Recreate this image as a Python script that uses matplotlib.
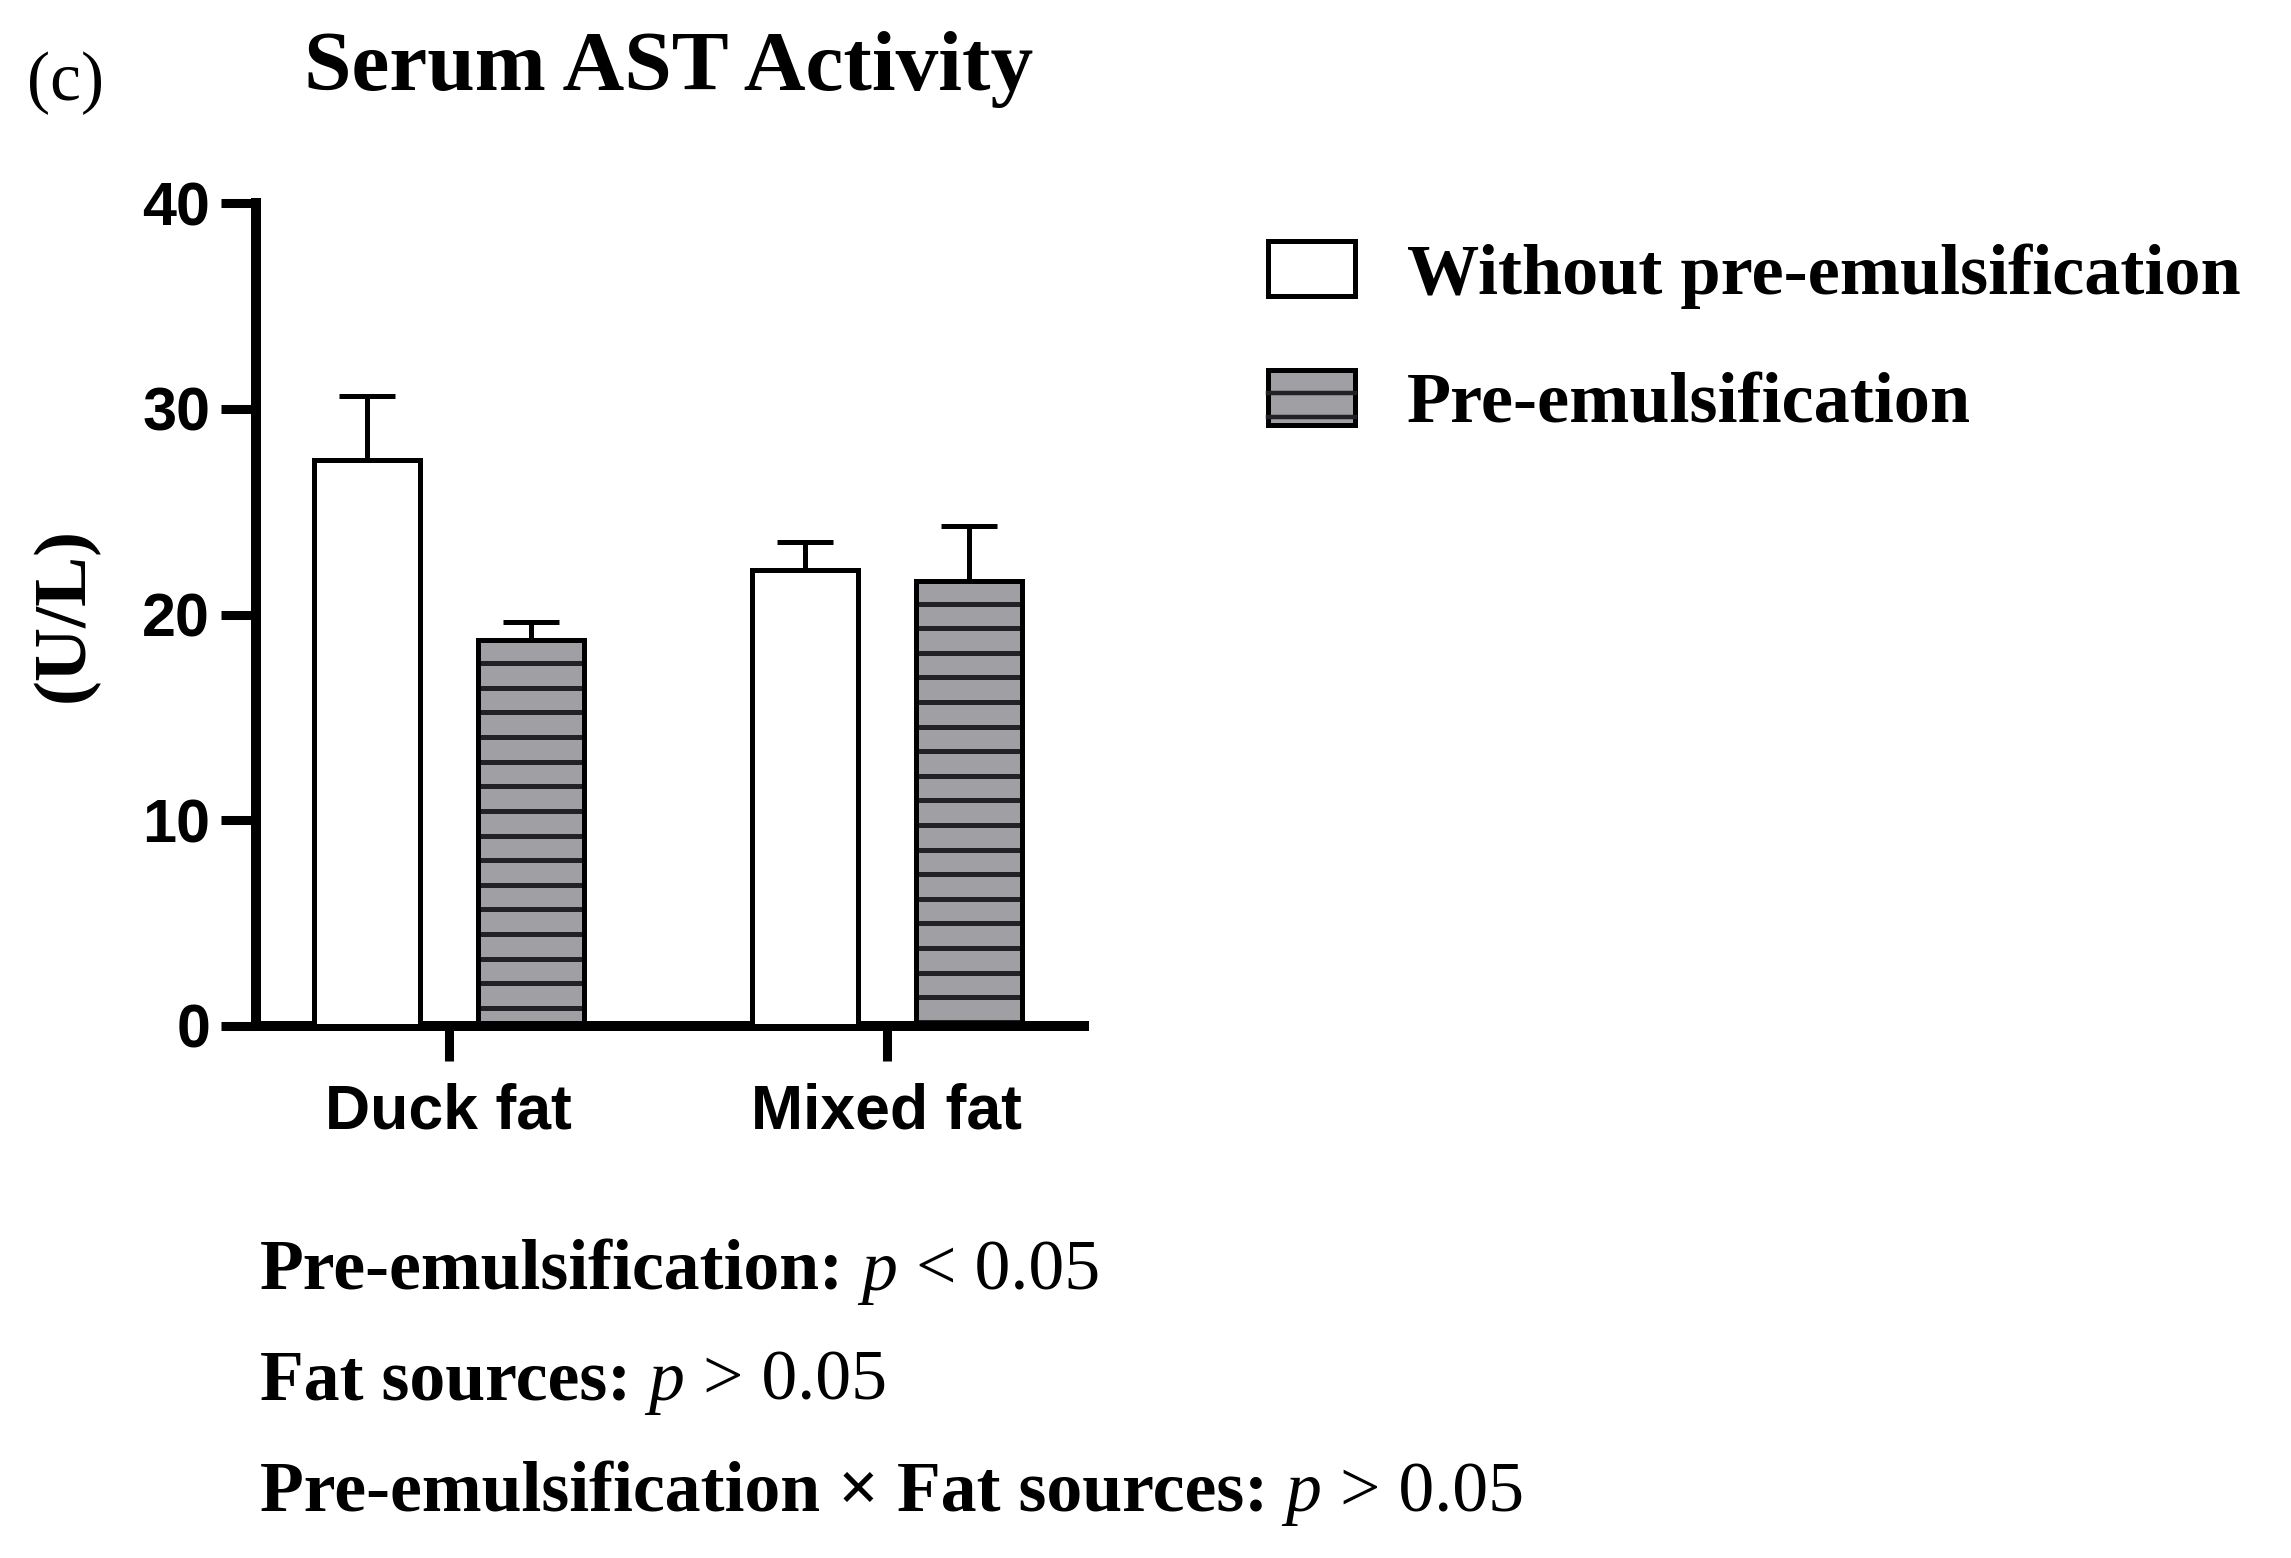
import matplotlib.pyplot as plt
import numpy as np
from matplotlib.legend_handler import HandlerBase
from matplotlib.patches import Rectangle, Patch
from matplotlib.lines import Line2D

# values (mean and upper SEM, U/L)
categories = ['Duck fat', 'Mixed fat']
without_mean = [27.5, 22.15]
without_sem = [3.1, 1.35]
pre_mean = [18.75, 21.65]
pre_sem = [0.87, 2.63]
yticks = [0, 10, 20, 30, 40]
series_names = ['Without pre-emulsification', 'Pre-emulsification']
stats = [('Pre-emulsification:', '<'),
         ('Fat sources:', '>'),
         ('Pre-emulsification \u00d7 Fat sources:', '>')]

GRAY = '#a09fa4'
STRIPE = '#222226'
SERIF = 'Liberation Serif'
SANS = 'Liberation Sans'
W, H = 2291, 1558


class StripedHandler(HandlerBase):
    # legend box with the two horizontal stripes
    def create_artists(self, legend, orig_handle, xdescent, ydescent,
                       width, height, fontsize, trans):
        x0, y0 = -xdescent, -ydescent
        out = [Rectangle((x0, y0), width, height, facecolor=GRAY,
                         edgecolor='black', lw=3.6, transform=trans)]
        for f in (0.586, 0.155):
            out.append(Line2D([x0, x0 + width], [y0 + f * height] * 2,
                              color=STRIPE, lw=3.2, transform=trans))
        return out


fig = plt.figure(figsize=(W / 100, H / 100), dpi=100)
ax = fig.add_axes([256 / W, 1 - 1026 / H, 828 / W, 823 / H])

x = np.arange(len(categories))
off, bw = 0.1876, 0.242

ax.bar(x - off, without_mean, bw, color='white', edgecolor='black', lw=3.6, zorder=3)
ax.bar(x + off, pre_mean, bw, color=GRAY, lw=0, zorder=2)
for xi, top in zip(x + off, pre_mean):
    ys = np.arange(top - 1.12, 0.1, -1.196)
    ax.hlines(ys, xi - bw / 2, xi + bw / 2, colors=STRIPE, lw=3.6, zorder=2.5)
ax.bar(x + off, pre_mean, bw, fill=False, edgecolor='black', lw=3.6, zorder=3)

ax.errorbar(x - off, without_mean, yerr=[np.zeros(len(x)), without_sem], fmt='none',
            ecolor='black', elinewidth=3.6, capsize=20, capthick=3.6, zorder=2.8)
ax.errorbar(x + off, pre_mean, yerr=[np.zeros(len(x)), pre_sem], fmt='none',
            ecolor='black', elinewidth=3.6, capsize=20, capthick=3.6, zorder=2.8)

ax.set_xlim(-0.44, 1.45)
ax.set_ylim(0, 40)
ax.set_yticks(yticks)
ax.set_xticks(x)
ax.set_xticklabels(categories)
for s in ['top', 'right']:
    ax.spines[s].set_visible(False)
for s in ['left', 'bottom']:
    ax.spines[s].set_linewidth(7.2)
ax.tick_params(axis='both', length=25, width=6.5, labelsize=44)
ax.tick_params(axis='y', pad=8)
ax.tick_params(axis='x', labelsize=45, pad=16)
for lab in ax.get_xticklabels() + ax.get_yticklabels():
    lab.set_fontfamily(SANS)
    lab.set_fontweight('bold')

fig.text(64.5 / W, 1 - 614.5 / H, '(U/L)', rotation=90, ha='center', va='center',
         fontsize=54, fontweight='bold', family=SERIF)

fig.text(304 / W, 1 - 90 / H, 'Serum AST Activity', fontsize=61.5, fontweight='bold',
         family=SERIF, va='baseline')
fig.text(27 / W, 1 - 100 / H, '(c)', fontsize=50, family=SERIF, va='baseline')

h_without = Patch(facecolor='white', edgecolor='black', lw=3.6)
h_pre = Patch(facecolor=GRAY, edgecolor='black', lw=3.6)
fig.legend([h_without, h_pre], series_names, handler_map={h_pre: StripedHandler()},
           loc='upper left', bbox_to_anchor=(1268 / W, 1 - 241 / H), frameon=False,
           borderpad=0, borderaxespad=0, handlelength=1.2, handleheight=0.8,
           handletextpad=0.72, labelspacing=0.85,
           prop={'family': SERIF, 'weight': 'bold', 'size': 52})

for i, (name, sign) in enumerate(stats):
    base = [1290, 1400, 1511][i]
    t1 = fig.text(260 / W, 1 - base / H, name, fontsize=51.7, fontweight='bold',
                  family=SERIF, va='baseline')
    t2 = ax.annotate(' p', xy=(1, 0), xycoords=t1, va='bottom', fontsize=51.7,
                     fontstyle='italic', family=SERIF)
    ax.annotate(' ' + sign + ' 0.05', xy=(1, 0), xycoords=t2, va='bottom',
                fontsize=51.7, family=SERIF)

fig.savefig('out.png', dpi=100)
